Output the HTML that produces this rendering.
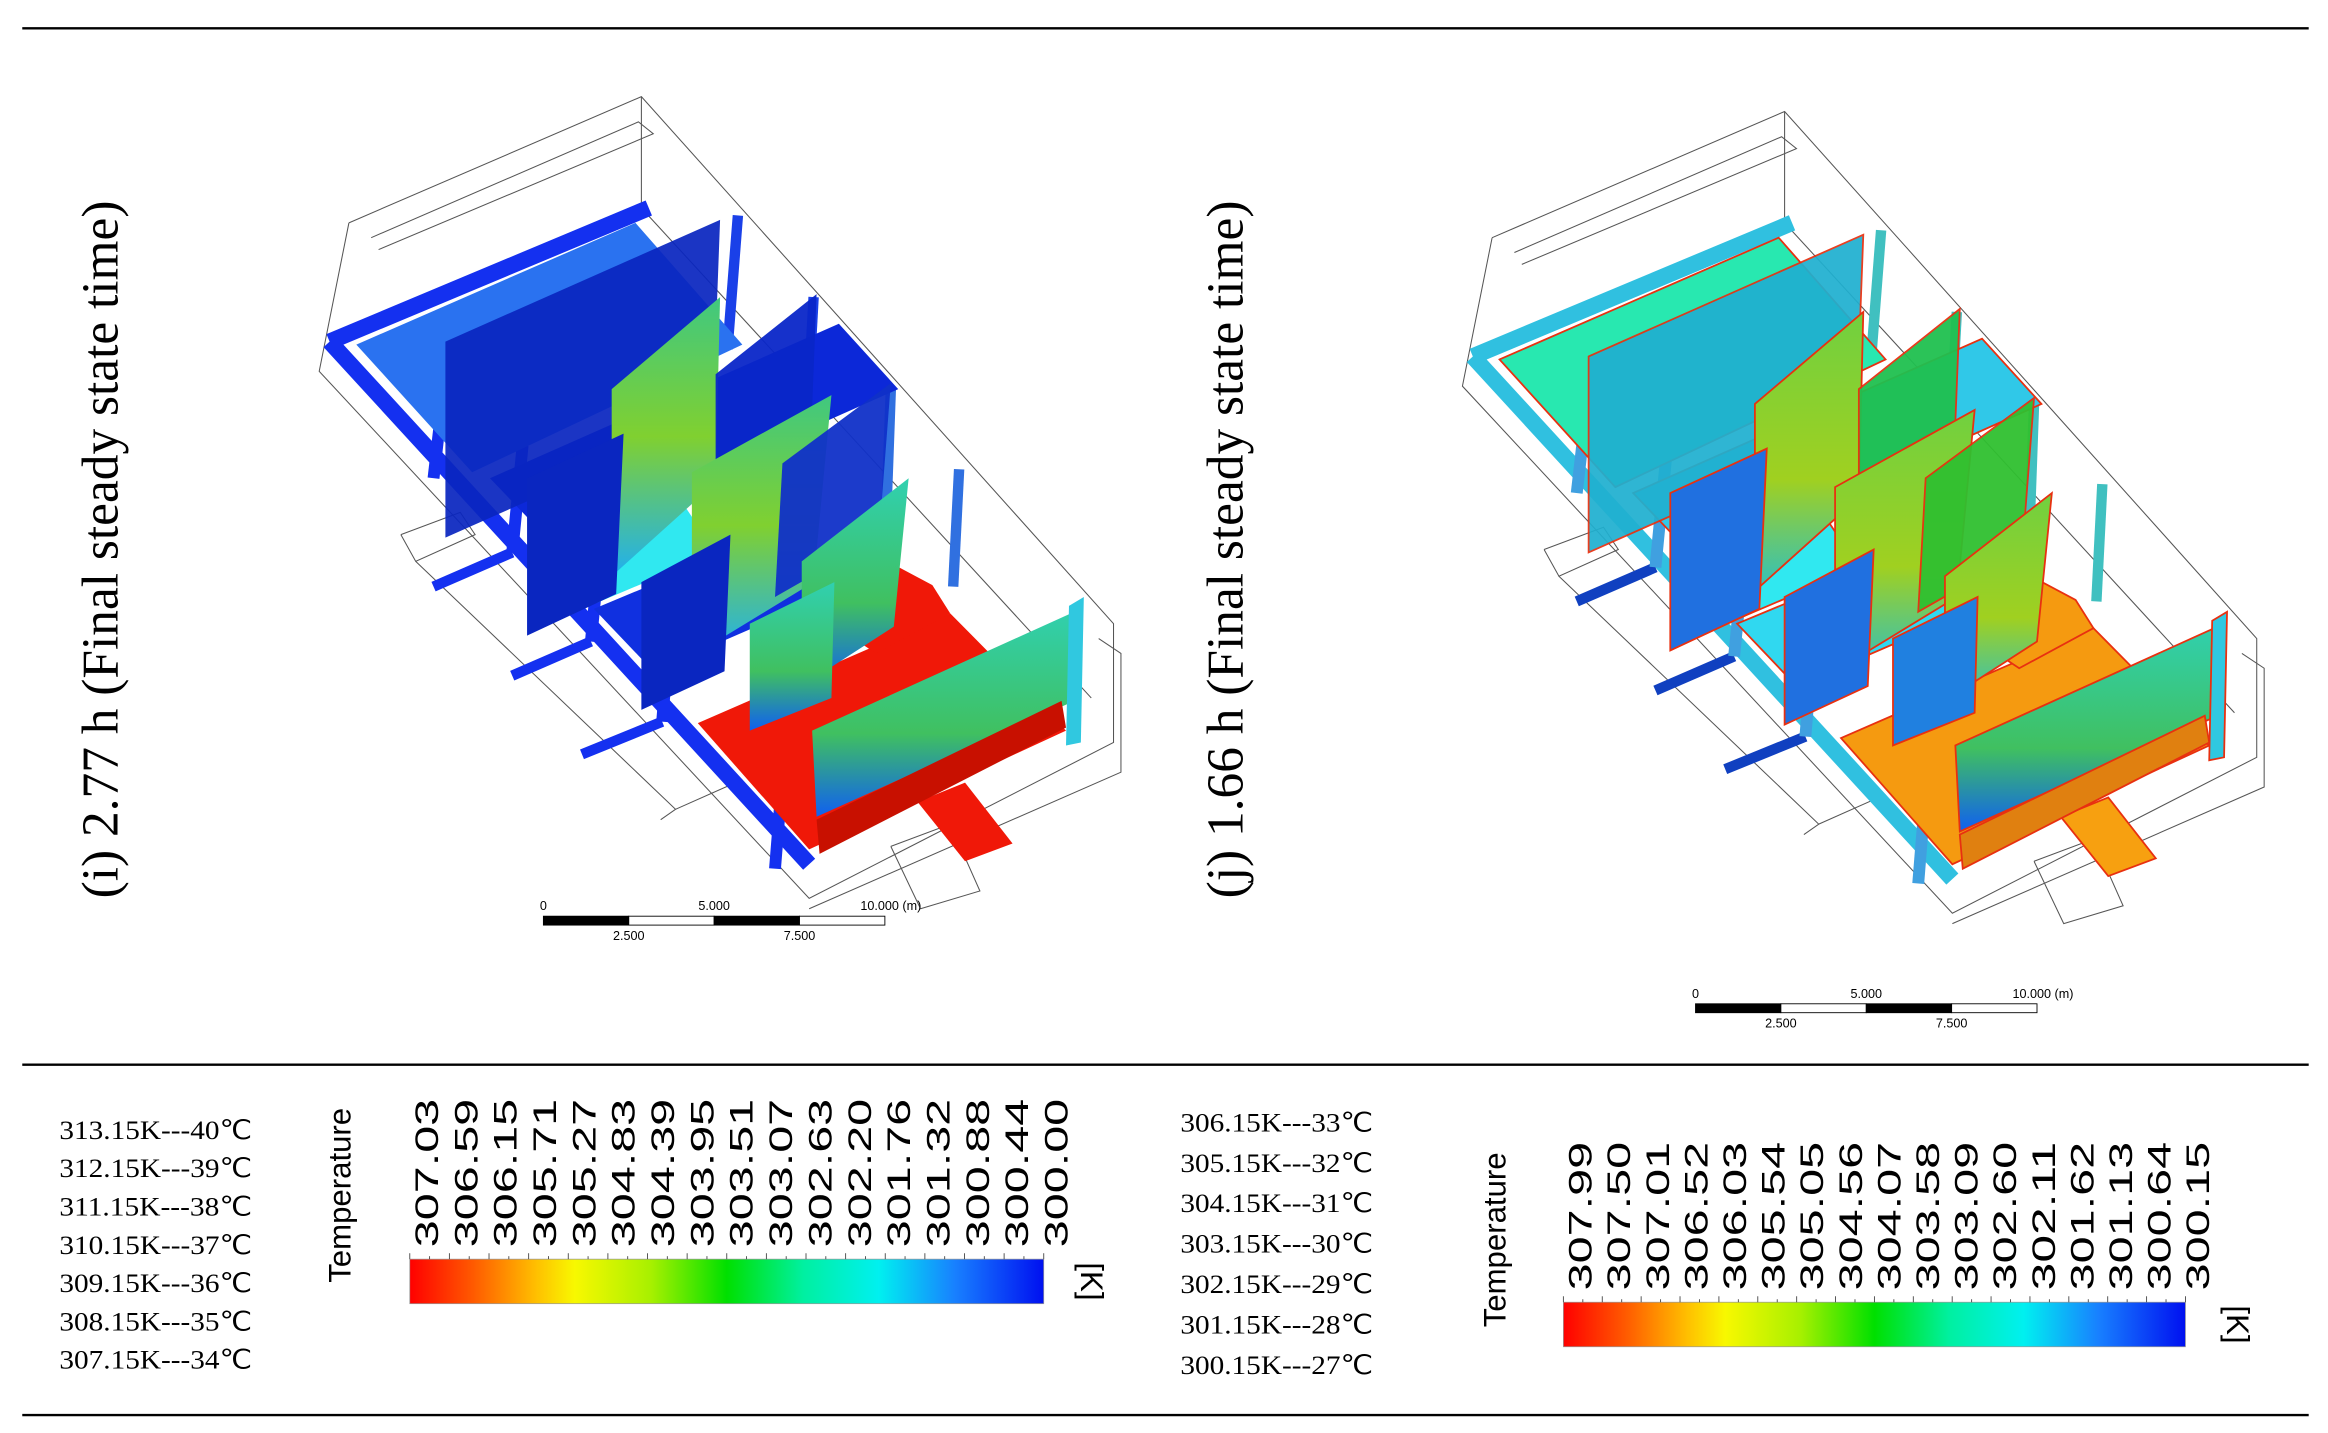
<!DOCTYPE html>
<html><head><meta charset="utf-8">
<style>
html,body{margin:0;padding:0;background:#fff;}
svg{display:block;}
</style></head>
<body>
<svg id="fig" xmlns="http://www.w3.org/2000/svg" width="2328" height="1433" viewBox="0 0 1568 965">
<defs>
<linearGradient id="cbar" x1="0" x2="1" y1="0" y2="0">
<stop offset="0" stop-color="#ff0000"/><stop offset="0.1" stop-color="#ff5a00"/><stop offset="0.2" stop-color="#ffc000"/><stop offset="0.26" stop-color="#f8f800"/><stop offset="0.38" stop-color="#a8f000"/><stop offset="0.5" stop-color="#00e000"/><stop offset="0.62" stop-color="#00f0a0"/><stop offset="0.74" stop-color="#00f0f0"/><stop offset="0.86" stop-color="#1880ff"/><stop offset="1" stop-color="#0010f0"/>
</linearGradient>
<linearGradient id="gA" x1="0" x2="0" y1="0" y2="1"><stop offset="0" stop-color="#40c880"/><stop offset="0.5" stop-color="#80d030"/><stop offset="1" stop-color="#20b0f0"/></linearGradient>
<linearGradient id="gB" x1="0" x2="0" y1="0" y2="1"><stop offset="0" stop-color="#30d0b0"/><stop offset="0.6" stop-color="#40c060"/><stop offset="1" stop-color="#1060f0"/></linearGradient>
<linearGradient id="gC" x1="0" x2="0" y1="0" y2="1"><stop offset="0" stop-color="#70d040"/><stop offset="0.6" stop-color="#a0d020"/><stop offset="1" stop-color="#30c0c0"/></linearGradient>
</defs>
<line x1="15" y1="19" x2="1555" y2="19" stroke="#000" stroke-width="1.6"/>
<line x1="15" y1="717" x2="1555" y2="717" stroke="#000" stroke-width="1.6"/>
<line x1="15" y1="953" x2="1555" y2="953" stroke="#000" stroke-width="1.6"/>
<text x="0" y="0" transform="translate(79,370) rotate(-90)" text-anchor="middle" font-family="Liberation Serif, serif" font-size="35" textLength="470" lengthAdjust="spacingAndGlyphs">(i) 2.77 h (Final steady state time)</text>
<text x="0" y="0" transform="translate(837,370) rotate(-90)" text-anchor="middle" font-family="Liberation Serif, serif" font-size="35" textLength="470" lengthAdjust="spacingAndGlyphs">(j) 1.66 h (Final steady state time)</text>
<g id="modelL"></g>
<g id="modelR" transform="translate(770,10)"></g>
<g id="scaleL"></g>
<g id="scaleR"></g>
<g id="listL"></g>
<g id="listR"></g>
<g id="cbL"></g>
<g id="cbR"></g>
</svg>
<script>
const NS="http://www.w3.org/2000/svg";
const labelsI=["307.03","306.59","306.15","305.71","305.27","304.83","304.39","303.95","303.51","303.07","302.63","302.20","301.76","301.32","300.88","300.44","300.00"];
const labelsJ=["307.99","307.50","307.01","306.52","306.03","305.54","305.05","304.56","304.07","303.58","303.09","302.60","302.11","301.62","301.13","300.64","300.15"];
const listLeft=["313.15K---40℃","312.15K---39℃","311.15K---38℃","310.15K---37℃","309.15K---36℃","308.15K---35℃","307.15K---34℃"];
const listRight=["306.15K---33℃","305.15K---32℃","304.15K---31℃","303.15K---30℃","302.15K---29℃","301.15K---28℃","300.15K---27℃"];
const scaleTop=["0","5.000","10.000  (m)"];
const scaleBottom=["2.500","7.500"];

function mk(tag,attrs,parent){const e=document.createElementNS(NS,tag);for(const k in attrs)e.setAttribute(k,attrs[k]);parent.appendChild(e);return e;}

const wire=[
"235,150 432,65 750,420 750,500 545,605 215,250 235,150",
"432,65 432,140 235,225","432,140 735,470","250,160 430,82 440,90 255,168",
"740,430 755,440 755,520 545,612","270,360 310,345 320,360 280,378 270,360",
"280,378 455,545 445,552","455,545 500,525","600,570 640,555 660,600 620,612 600,570"];
const shapes=[
["240,232 428,150 500,232 318,318","#2a72f0","#28e8b0",1],
["330,322 565,218 605,262 372,366","#0c28d8","#30c8e8",1],
["378,368 458,336 482,372 402,406","#30e8f0","#30e8f0",1],
["400,410 520,360 560,400 440,452","#1030e0","#30d8f0",1],
["470,487 640,413 718,492 545,572","#f01808","#f59a10",1],
["560,420 598,378 628,394 640,413 590,440","#f01808","#f59a10",1],
["618,540 650,527 682,568 650,580","#f01808","#f7a010",1],
["300,230 485,148 480,282 300,362","#0a26c0","#20b0d0",0.93],
["412,262 485,200 482,325 412,388","url(#gA)","url(#gC)",1],
["482,252 550,198 546,300 482,342","#0a26c8","#20c050",0.95],
["466,318 560,266 548,392 466,442","url(#gA)","url(#gC)",1],
["527,312 600,258 592,362 522,402","#1030c8","#30c030",0.95],
["540,378 612,322 602,422 540,462","url(#gB)","url(#gC)",1],
["432,392 492,360 488,452 432,478","#0a26c0","#2070e0",1],
["355,322 420,292 415,400 355,428","#0a26c0","#2070e0",1],
["505,420 562,392 560,470 505,492","url(#gB)","#2080e0",1],
["547,492 728,410 728,470 550,550","url(#gB)","url(#gB)",1],
["550,552 715,472 718,490 552,575","#c81000","#e08010",1],
["720,408 730,402 728,500 718,502","#30c8e0","#30c8e0",1]];
const bars=[
["222,230 437,140","#1430f0","#30c0e0",11],
["222,230 545,582","#1430f0","#30c0e0",11],
["292,322 300,252","#1430f0","#40a0e0",8],
["292,395 345,372","#1430f0","#1040c0",7],
["345,372 352,300","#1430f0","#40a0e0",8],
["345,455 398,432","#1430f0","#1040c0",7],
["398,432 405,360","#1430f0","#40a0e0",8],
["392,508 446,486","#1430f0","#1040c0",7],
["446,486 452,412","#1430f0","#40a0e0",8],
["522,585 530,485","#1430f0","#40a0e0",8],
["490,235 497,145","#1a40e8","#40c0c0",7],
["543,290 548,200","#1a40e8","#40c0c0",7],
["597,345 600,262","#3070e0","#40c0c0",7],
["642,395 646,316","#3070e0","#40c0c0",7]];
function drawModel(g,idx){
  wire.forEach(p=>{const e=mk('polyline',{points:p,fill:'none',stroke:'#555','stroke-width':0.7},g);
    
    });
  bars.forEach(b=>{const e=mk('polyline',{points:b[0],fill:'none',stroke:b[idx],'stroke-width':b[3],'stroke-linecap':'butt'},g);
    
    });
  shapes.forEach(s=>{const e=mk('polygon',{points:s[0],fill:s[idx],opacity:s[3],stroke:idx===2?'#e83010':'none','stroke-width':idx===2?1.2:0},g);
    
    });
}
drawModel(document.getElementById('modelL'),1);
drawModel(document.getElementById('modelR'),2);

function drawScale(g,x0,y0){
  const w=230,seg=w/4;
  const pos=[0,2,4];
  scaleTop.forEach((t,i)=>{const e=mk('text',{x:x0+pos[i]*seg,y:y0-4,'font-family':'Liberation Sans, sans-serif','font-size':8.5,'text-anchor':'middle'},g);e.textContent=t;
    if(i===2){e.setAttribute('x',x0+w+4);}
    
    });
  for(let i=0;i<4;i++){const r=mk('rect',{x:x0+i*seg,y:y0,width:seg,height:6,fill:i%2===0?'#000':'#fff',stroke:'#000','stroke-width':0.6},g);
    
    }
  scaleBottom.forEach((t,i)=>{const e=mk('text',{x:x0+(1+2*i)*seg,y:y0+16,'font-family':'Liberation Sans, sans-serif','font-size':8.5,'text-anchor':'middle'},g);e.textContent=t;
    
    });
}
drawScale(document.getElementById('scaleL'),366,617);
drawScale(document.getElementById('scaleR'),1142,676);

function drawList(g,items,x,y0,dy){
  items.forEach((t,i)=>{const e=mk('text',{x:x,y:y0+i*dy,'font-family':'Liberation Serif, serif','font-size':18,textLength:130,lengthAdjust:'spacingAndGlyphs'},g);e.textContent=t;
    
    });
}
drawList(document.getElementById('listL'),listLeft,40,767,25.8);
drawList(document.getElementById('listR'),listRight,795,762,27.2);

function drawBar(g,labels,x0,x1,y,titleX,titleY,kx){
  const r=mk('rect',{x:x0,y:y,width:x1-x0,height:30,fill:'url(#cbar)',stroke:'#999','stroke-width':0.5},g);
  
  
  const n=labels.length;
  for(let i=0;i<=32;i++){const xx=x0+(x1-x0)*i/32;const t=mk('line',{x1:xx,x2:xx,y1:y-(i%2?2:4),y2:y,stroke:'#444','stroke-width':0.6},g);
    
    }
  const lx0=x0+11,lx1=x1+8;
  labels.forEach((l,i)=>{const xx=lx0+(lx1-lx0)*i/(n-1);
    const e=mk('text',{x:0,y:0,transform:`translate(${xx+8},${y-8}) rotate(-90)`,'font-family':'Liberation Sans, sans-serif','font-size':22,textLength:100,lengthAdjust:'spacingAndGlyphs'},g);
    e.textContent=l;
    
    });
  const t=mk('text',{x:0,y:0,transform:`translate(${titleX},${titleY}) rotate(-90)`,'font-family':'Liberation Sans, sans-serif','font-size':21,'text-anchor':'middle'},g);
  t.textContent='Temperature';
  
  
  const k=mk('text',{x:0,y:0,transform:`translate(${kx},${y+15}) rotate(90)`,'font-family':'Liberation Sans, sans-serif','font-size':21,'text-anchor':'middle'},g);
  k.textContent='[K]';
  
  
}
drawBar(document.getElementById('cbL'),labelsI,276,703,848,236,805,728);
drawBar(document.getElementById('cbR'),labelsJ,1053,1472,877,1014,835,1500);
</script>
</body></html>
